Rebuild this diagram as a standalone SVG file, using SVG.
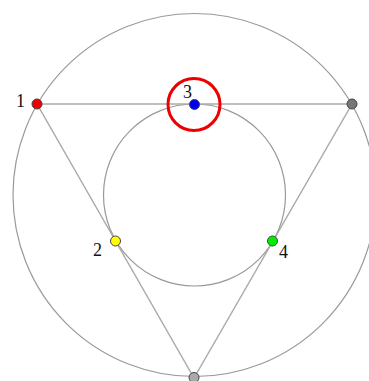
<svg xmlns="http://www.w3.org/2000/svg" width="369" height="381" viewBox="0 0 369 381">
<style>
.c{fill:none;stroke:#999;stroke-width:1.2}
.e{stroke:#aaa;stroke-width:1.5;fill:none}
.p{stroke:#444;stroke-width:1}
.t{font-family:"Liberation Serif",serif;font-size:18px;fill:#111}
</style>
<rect width="369" height="381" fill="#fff"/>
<g id="edges">
<circle class="c" cx="194.5" cy="195" r="181.5"/>
<circle class="c" cx="194.5" cy="195" r="91"/>
<line class="e" x1="37" y1="104" x2="352" y2="104"/>
<line class="e" x1="37" y1="104" x2="194" y2="378"/>
<line class="e" x1="352" y1="104" x2="194" y2="378"/>
</g>
<g id="highlight"><circle cx="194" cy="104.5" r="26" fill="none" stroke="#e00" stroke-width="3"/></g>
<g id="n1"><circle class="p" cx="37" cy="104" r="5" fill="#e00"/><text class="t" x="16" y="107">1</text></g>
<g id="n2"><circle class="p" cx="115.5" cy="241" r="5" fill="#ff0"/><text class="t" x="93" y="256">2</text></g>
<g id="n3"><circle class="p" cx="194.5" cy="104.5" r="5" fill="#00e"/><text class="t" x="183" y="98">3</text></g>
<g id="n4"><circle class="p" cx="272.5" cy="241" r="5" fill="#0e0"/><text class="t" x="279" y="258">4</text></g>
<g id="n5"><circle class="p" cx="352" cy="104" r="5" fill="#777"/></g>
<g id="n6"><circle class="p" cx="194" cy="377.5" r="5" fill="#aaa"/></g>
</svg>
